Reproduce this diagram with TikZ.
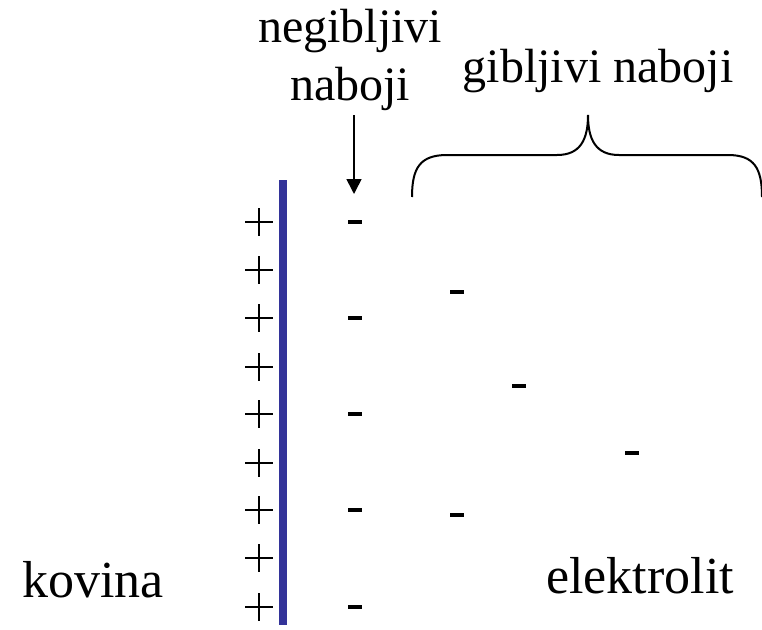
\documentclass[tikz,border=0pt]{standalone}
\usepackage{fontspec}
\setmainfont{Liberation Serif}
\usetikzlibrary{arrows.meta}
\definecolor{barblue}{HTML}{333399}
\tikzset{
  lbl/.style={inner sep=0pt, anchor=base, font=\fontsize{48}{57}\selectfont},
  big/.style={inner sep=0pt, anchor=base, font=\fontsize{52}{60}\selectfont},
  pluscharge/.style={draw=none, inner sep=0pt, minimum size=28pt,
    path picture={\draw[line width=2pt] (path picture bounding box.west) -- (path picture bounding box.east)
      (path picture bounding box.north) -- (path picture bounding box.south);}},
  minuscharge/.style={fill=black, inner sep=0pt, minimum width=14pt, minimum height=3.2pt},
}
\begin{document}
\begin{tikzpicture}[x=1pt,y=-1pt]
\useasboundingbox (0,0) rectangle (762,629);
% metal plate
\fill[barblue] (279,180) rectangle (287,625);
% plus charges
\foreach \y [count=\i] in {222,270,318,367,414,463,510,558,607}
  \node[pluscharge] (p\i) at (259,\y) {};
% fixed negative charges
\foreach \y [count=\i] in {222,318,414,510,607}
  \node[minuscharge] (m\i) at (355,\y) {};
% mobile negative charges
\node[minuscharge] (g1) at (457,292) {};
\node[minuscharge] (g2) at (519,386) {};
\node[minuscharge] (g3) at (632,453) {};
\node[minuscharge] (g4) at (457,515) {};
% labels
\node[lbl] (neg1) at (350,42) {negibljivi};
\node[lbl] (neg2) at (350,100) {naboji};
\node[lbl] (mob) at (598,82) {gibljivi naboji};
\node[big] (kov) at (93,597) {kovina};
\node[big] (ele) at (640,593) {elektrolit};
% arrow
\coordinate (arrs) at (354,115);
\coordinate (arre) at (354,194);
\draw[line width=1.6pt, -{Triangle[length=15pt,width=15pt]}] (arrs) -- (arre);
% brace
\coordinate (bl) at (412,197);
\coordinate (bm) at (588,115);
\coordinate (br) at (762,197);
\draw[line width=2pt] (bl) .. controls (412,168) and (420,155) .. (447,155)
  -- (557,155) .. controls (580,155) and (588,140) .. (bm)
  .. controls (588,140) and (596,155) .. (619,155)
  -- (728,155) .. controls (754,155) and (762,168) .. (br);
\end{tikzpicture}
\end{document}
